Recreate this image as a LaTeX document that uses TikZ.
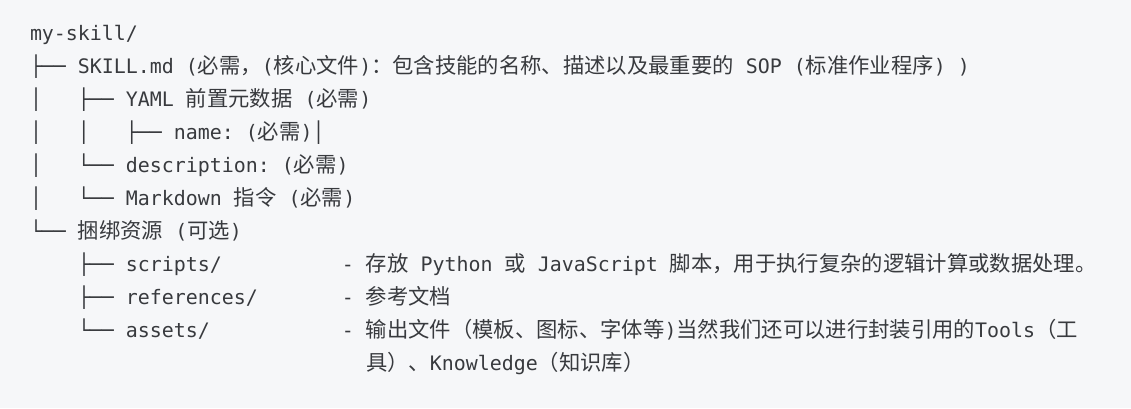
\documentclass[tikz,border=0pt]{standalone}
\usepackage{fontspec}
\newfontfamily\monofont{DejaVu Sans Mono}
\newfontfamily\zhfont{Noto Sans CJK SC}
\newdimen\cw \cw=12bp
\newcommand\gap[1]{\hspace*{#1\cw}\ignorespaces}
\newcommand\zh[1]{{\zhfont\fontsize{21.33bp}{21.33bp}\selectfont #1}}
\definecolor{bg}{HTML}{F6F7F9}
\definecolor{ink}{HTML}{383A3E}
\tikzset{codeline/.style={anchor=base west, inner sep=0pt, outer sep=0pt, text=ink,
  font=\monofont\fontsize{19.93bp}{19.93bp}\selectfont}}
\begin{document}
\begin{tikzpicture}[x=1bp,y=-1bp]
\fill[bg] (0,0) rectangle (1131,408);
\useasboundingbox (0,0) rectangle (1131,408);
\node[codeline] (l1) at (30,40) {my-skill/};
\node[codeline] (l2) at (30,73) {├──\gap1 SKILL.md\gap1 (\zh{必需，}(\zh{核心文件})\zh{：包含技能的名称、描述以及最重要的}\gap1 SOP\gap1 (\zh{标准作业程序})\gap1 )};
\node[codeline] (l3) at (30,106) {│\gap3 ├──\gap1 YAML\gap1 \zh{前置元数据}\gap1 (\zh{必需})};
\node[codeline] (l4) at (30,139) {│\gap3 │\gap3 ├──\gap1 name:\gap1 (\zh{必需})│};
\node[codeline] (l5) at (30,172) {│\gap3 └──\gap1 description:\gap1 (\zh{必需})};
\node[codeline] (l6) at (30,205) {│\gap3 └──\gap1 Markdown\gap1 \zh{指令}\gap1 (\zh{必需})};
\node[codeline] (l7) at (30,238) {└──\gap1 \zh{捆绑资源}\gap1 (\zh{可选})};
\node[codeline] (l8) at (30,271) {\gap4 ├──\gap1 scripts/\gap{10}-\gap1 \zh{存放}\gap1 Python\gap1 \zh{或}\gap1 JavaScript\gap1 \zh{脚本，用于执行复杂的逻辑计算或数据处理。}};
\node[codeline] (l9) at (30,304) {\gap4 ├──\gap1 references/\gap7 -\gap1 \zh{参考文档}};
\node[codeline] (l10) at (30,337) {\gap4 └──\gap1 assets/\gap{11}-\gap1 \zh{输出文件（模板、图标、字体等})\zh{当然我们还可以进行封装引用的}Tools\zh{（工}};
\node[codeline] (l11) at (30,370) {\gap{28}\zh{具）、}Knowledge\zh{（知识库）}};
\end{tikzpicture}
\end{document}
